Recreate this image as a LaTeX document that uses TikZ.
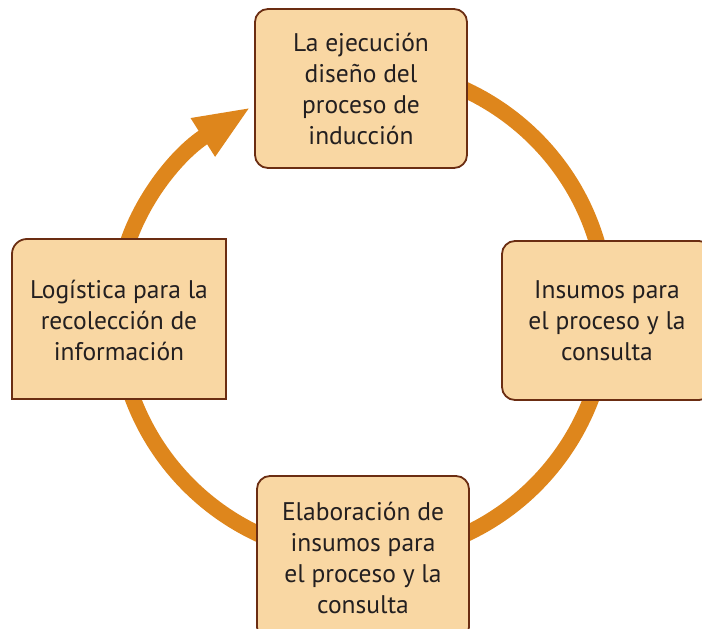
\documentclass[tikz,border=0pt]{standalone}
\usepackage{fontspec}
\setmainfont{PT Sans}
\usetikzlibrary{arrows.meta}
\definecolor{ringorange}{HTML}{DE861C}
\definecolor{boxfill}{HTML}{F9D7A3}
\definecolor{boxedge}{HTML}{6B2D12}
\definecolor{txtgrey}{HTML}{231F20}

\tikzset{
  stage/.style={fill=boxfill,draw=boxedge,line width=1.8pt,rounded corners=13pt,
    minimum width=212pt,minimum height=159pt,align=center,text=txtgrey,
    font=\fontsize{25.5}{31}\selectfont,inner sep=0pt},
  stagetext/.style={align=center,text=txtgrey,font=\fontsize{25.5}{31}\selectfont,inner sep=0pt},
  ring/.style={draw=ringorange,line width=16pt}
}

\begin{document}
\begin{tikzpicture}[x=1pt,y=1pt]
  \useasboundingbox (0,0) rectangle (702,-629);
  \clip (0,0) rectangle (702,-629);

  % ring behind the boxes
  \coordinate (ctr) at (362,-312);
  \draw[ring] ([shift={(100:245)}]ctr) arc[start angle=100,end angle=-190,radius=245];

  % arrow into the first stage
  \coordinate (tail) at ([shift={(170:245)}]ctr);
  \coordinate (tip) at (251,-107);
  \draw[ring,-{Triangle[length=57pt,width=41pt]}] (tail) .. controls +(80:60) and +(-147.7:90) .. (tip);

  % stages
  \node[stage] (exec) at (361,-88.5) {La ejecución\\diseño del\\proceso de\\inducción};
  \node[stage,minimum width=210pt] (ins) at (607,-320.5) {Insumos para\\el proceso y la\\consulta};
  \node[stage,minimum height=164pt] (elab) at (363,-558) {Elaboración de\\insumos para\\el proceso y la\\consulta};

  % left stage, only one round corner
  \filldraw[fill=boxfill,draw=boxedge,line width=1.8pt]
    (12,-399) -- (12,-254) arc[start angle=180,end angle=90,radius=15] -- (226,-239) -- (226,-399) -- cycle;
  \node[stagetext] (log) at (119,-320) {Logística para la\\recolección de\\información};
\end{tikzpicture}
\end{document}
